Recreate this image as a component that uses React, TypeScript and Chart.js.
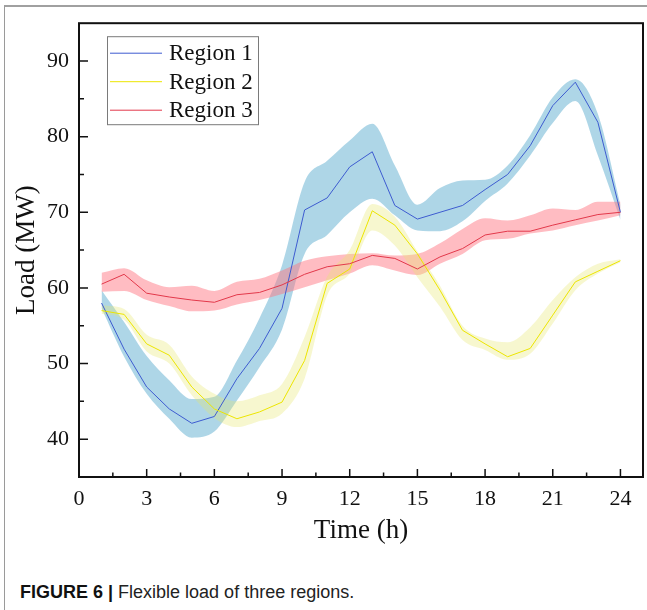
import { useEffect, useRef } from 'react';
import { Chart, registerables } from 'chart.js';

Chart.register(...registerables);

// Hour of day for every sample
const hours = [1, 2, 3, 4, 5, 6, 7, 8, 9, 10, 11, 12, 13, 14, 15, 16, 17, 18, 19, 20, 21, 22, 23, 24];

// Region 1 load (MW) and its fluctuation band
const region1 = [58.0, 51.9, 46.9, 44.0, 42.1, 43.0, 48.0, 52.0, 57.3, 70.3, 71.9, 76.0, 78.0, 70.9, 69.1, 70.0, 70.9, 73.0, 75.0, 78.8, 84.1, 87.2, 81.9, 70.0];
const region1Upper = [59.7, 55.5, 51.0, 47.8, 45.3, 45.6, 50.4, 56.0, 63.0, 74.0, 76.8, 79.5, 81.7, 76.2, 71.0, 73.2, 74.2, 74.3, 76.2, 80.2, 85.2, 87.6, 83.0, 71.0];
const region1Lower = [57.3, 50.9, 46.0, 42.7, 40.2, 41.0, 45.1, 49.5, 54.5, 64.5, 67.0, 70.0, 71.8, 69.6, 67.6, 67.5, 68.8, 71.5, 73.8, 77.5, 81.8, 84.7, 77.5, 69.0];

// Region 2 load (MW) and its fluctuation band
const region2 = [57.0, 56.5, 52.6, 51.1, 46.9, 44.0, 42.7, 43.6, 44.9, 50.4, 60.6, 62.5, 70.2, 68.3, 64.5, 59.7, 54.4, 52.6, 50.9, 52.0, 56.4, 60.8, 62.2, 63.6];
const region2Upper = [57.7, 57.2, 53.8, 52.5, 48.3, 46.0, 45.0, 45.8, 47.3, 53.5, 61.5, 65.0, 71.1, 69.4, 64.8, 60.3, 55.0, 53.3, 52.8, 54.8, 58.4, 61.4, 63.2, 63.8];
const region2Lower = [56.6, 55.8, 51.6, 50.0, 45.8, 42.8, 41.6, 42.4, 43.4, 48.0, 59.0, 61.9, 67.6, 65.6, 61.4, 57.5, 53.1, 51.8, 50.5, 51.3, 55.3, 59.7, 61.9, 63.4];

// Region 3 load (MW) and its fluctuation band
const region3 = [60.5, 61.8, 59.3, 58.8, 58.4, 58.1, 59.1, 59.4, 60.4, 61.8, 62.8, 63.2, 64.3, 63.9, 62.5, 64.1, 65.2, 67.0, 67.5, 67.5, 68.3, 69.0, 69.7, 70.0];
const region3Upper = [62.0, 62.6, 61.0, 60.1, 60.3, 59.6, 60.8, 61.2, 62.3, 63.6, 64.2, 64.5, 64.6, 64.3, 64.5, 65.9, 67.8, 69.2, 68.9, 69.6, 70.5, 70.3, 71.4, 71.4];
const region3Lower = [59.5, 59.6, 58.4, 57.6, 56.9, 57.0, 57.8, 58.4, 59.2, 60.1, 61.0, 61.9, 63.0, 62.3, 61.7, 63.2, 64.5, 66.3, 66.5, 67.2, 67.6, 68.3, 68.9, 69.6];

const seriesNames = ['Region 1', 'Region 2', 'Region 3'];

// Axis ticks
const xTickValues = [0, 3, 6, 9, 12, 15, 18, 21, 24];
const yTickValues = [40, 50, 60, 70, 80, 90];

const SERIF = '"Liberation Serif", "Times New Roman", serif';
const SANS = '"Liberation Sans", Arial, sans-serif';
const INK = '#111';

const toPoints = (vals: number[]) => hours.map((h, i) => ({ x: h, y: vals[i] }));

function bandDatasets(lower: number[], upper: number[], color: string, order: number) {
  const common = {
    borderWidth: 0,
    borderColor: 'rgba(0,0,0,0)',
    pointRadius: 0,
    cubicInterpolationMode: 'monotone' as const,
  };
  return [
    { ...common, data: toPoints(lower), fill: false, order: order + 1 },
    { ...common, data: toPoints(upper), fill: '-1', backgroundColor: color, order },
  ];
}

function lineDataset(label: string, vals: number[], color: string, order: number) {
  return {
    label,
    data: toPoints(vals),
    borderColor: color,
    borderWidth: 1,
    pointRadius: 0,
    fill: false,
    tension: 0,
    order,
  };
}

// Frame around the plot plus inward-pointing major/minor ticks
const frameTicks = {
  id: 'frameTicks',
  afterDatasetsDraw(chart: any) {
    const { ctx, chartArea, scales } = chart;
    const { left, right, top, bottom } = chartArea;
    const x = scales.x;
    const y = scales.y;
    ctx.save();
    ctx.strokeStyle = INK;
    ctx.lineWidth = 1.5;
    ctx.beginPath();
    const xStep = xTickValues[1] - xTickValues[0];
    xTickValues.forEach((v) => {
      const px = x.getPixelForValue(v);
      ctx.moveTo(px, bottom);
      ctx.lineTo(px, bottom - 8);
      const mv = v + xStep / 2;
      if (mv < x.max) {
        const mpx = x.getPixelForValue(mv);
        ctx.moveTo(mpx, bottom);
        ctx.lineTo(mpx, bottom - 4.5);
      }
    });
    const yStep = yTickValues[1] - yTickValues[0];
    yTickValues.forEach((v) => {
      const py = y.getPixelForValue(v);
      ctx.moveTo(left, py);
      ctx.lineTo(left + 9, py);
      const mv = v + yStep / 2;
      if (mv < y.max) {
        const mpy = y.getPixelForValue(mv);
        ctx.moveTo(left, mpy);
        ctx.lineTo(left + 5, mpy);
      }
    });
    ctx.stroke();
    ctx.lineWidth = 2;
    ctx.strokeRect(left, top, right - left, bottom - top);
    ctx.restore();
  },
};

// Boxed legend in the upper-left corner of the plot
const insideLegend = {
  id: 'insideLegend',
  afterDraw(chart: any) {
    const { ctx, chartArea } = chart;
    const items = chart.data.datasets.filter((d: any) => d.label);
    const bx = chartArea.left + 28;
    const by = chartArea.top + 13;
    const bw = 151;
    const rowH = 28.5;
    const bh = 88;
    ctx.save();
    ctx.fillStyle = '#fff';
    ctx.fillRect(bx, by, bw, bh);
    ctx.strokeStyle = '#7a7a7a';
    ctx.lineWidth = 1;
    ctx.strokeRect(bx + 0.5, by + 0.5, bw, bh);
    ctx.font = `23px ${SERIF}`;
    ctx.textBaseline = 'middle';
    ctx.textAlign = 'left';
    items.forEach((d: any, i: number) => {
      const cy = by + 17 + i * rowH;
      ctx.strokeStyle = d.borderColor;
      ctx.lineWidth = 1;
      ctx.beginPath();
      ctx.moveTo(bx + 3, cy);
      ctx.lineTo(bx + 55, cy);
      ctx.stroke();
      ctx.fillStyle = INK;
      ctx.fillText(d.label, bx + 62, cy + 1);
    });
    ctx.restore();
  },
};

function LoadChart() {
  const ref = useRef<HTMLCanvasElement | null>(null);

  useEffect(() => {
    if (!ref.current) return;
    const chart = new Chart(ref.current, {
      type: 'line',
      data: {
        datasets: [
          ...bandDatasets(region1Lower, region1Upper, 'rgba(135,195,220,0.68)', 30),
          ...bandDatasets(region3Lower, region3Upper, 'rgba(255,115,128,0.48)', 20),
          ...bandDatasets(region2Lower, region2Upper, 'rgba(232,232,110,0.33)', 10),
          lineDataset(seriesNames[0], region1, '#3d5bd0', 2),
          lineDataset(seriesNames[1], region2, '#ece500', 1),
          lineDataset(seriesNames[2], region3, '#e2384a', 0),
        ] as any,
      },
      options: {
        animation: false,
        responsive: false,
        devicePixelRatio: 1,
        layout: { padding: { top: 23, right: 4, left: 0, bottom: 0 } },
        plugins: {
          legend: { display: false },
          tooltip: { enabled: false },
        },
        scales: {
          x: {
            type: 'linear',
            min: 0,
            max: 25,
            afterBuildTicks: (s: any) => {
              s.ticks = xTickValues.map((v) => ({ value: v }));
            },
            afterFit: (s: any) => {
              s.height = 83;
            },
            grid: { display: false, drawTicks: false },
            border: { display: false },
            ticks: {
              font: { family: SERIF, size: 22 },
              color: INK,
              padding: 9,
              maxRotation: 0,
              autoSkip: false,
            },
            title: {
              display: true,
              text: 'Time (h)',
              font: { family: SERIF, size: 27 },
              color: INK,
              padding: { top: 0, bottom: 13 },
            },
          },
          y: {
            type: 'linear',
            min: 35,
            max: 95,
            afterBuildTicks: (s: any) => {
              s.ticks = yTickValues.map((v) => ({ value: v }));
            },
            afterFit: (s: any) => {
              s.width = 79;
            },
            grid: { display: false, drawTicks: false },
            border: { display: false },
            ticks: {
              font: { family: SERIF, size: 22 },
              color: INK,
              padding: 10,
              autoSkip: false,
            },
            title: {
              display: true,
              text: 'Load (MW)',
              font: { family: SERIF, size: 27 },
              color: INK,
              padding: { top: 11, bottom: 0 },
            },
          },
        },
      } as any,
      plugins: [frameTicks, insideLegend],
    });
    return () => chart.destroy();
  }, []);

  return <canvas ref={ref} width={647} height={560} style={{ position: 'absolute', left: 0, top: 0 }} />;
}

export default function App() {
  return (
    <div style={{ position: 'fixed', left: 0, top: 0, width: 647, height: 610, background: '#fff', overflow: 'hidden' }}>
      <div
        style={{
          position: 'absolute',
          left: 4,
          top: 5,
          width: 660,
          height: 620,
          borderTop: '2px solid #a0a0a0',
          borderLeft: '1px solid #9a9a9a',
        }}
      />
      <LoadChart />
      <div
        style={{
          position: 'absolute',
          left: 20,
          top: 581,
          fontFamily: SANS,
          fontSize: 18,
          lineHeight: '22px',
          color: '#222',
          whiteSpace: 'nowrap',
        }}
      >
        <span style={{ fontWeight: 'bold', color: '#111' }}>FIGURE 6 | </span>
        Flexible load of three regions.
      </div>
    </div>
  );
}
